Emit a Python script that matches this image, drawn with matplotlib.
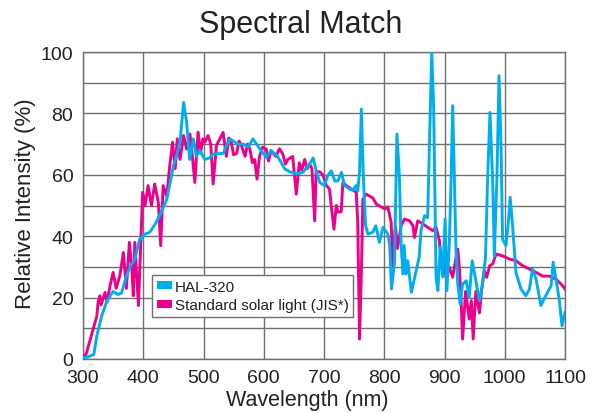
import matplotlib
matplotlib.use("Agg")
import matplotlib.pyplot as plt
from matplotlib.patches import Patch
from matplotlib.ticker import MultipleLocator

plt.rcParams['font.family'] = ['Liberation Sans', 'DejaVu Sans']

# HAL-320 spectrum
hal_wl = [300, 305, 312, 318, 323, 331, 339, 345, 350, 358, 364, 372, 378, 386, 394,
          403, 411, 420, 428, 439, 447, 450, 455, 461, 467, 472, 477, 483, 488, 494,
          502, 510, 516, 521, 533, 538, 544, 557, 566, 574, 582, 593, 604, 612, 623,
          635, 643, 654, 665, 676, 682, 687, 693, 701, 706, 712, 718, 723, 729, 734,
          742, 748, 753, 756, 759, 762, 765, 769, 773, 781, 786, 792, 798, 806, 809,
          812, 817, 821, 825, 828, 831, 833, 836, 839, 845, 853, 858, 861, 867, 872,
          875, 878.8, 882, 886, 889, 893, 897, 901, 904, 908, 911, 913.6, 916.4, 919, 922,
          926, 930, 936, 941, 946, 953, 958, 963, 968, 971.6, 975.5, 980, 982.7, 987, 990.5,
          993.8, 996.4, 1002, 1006, 1009, 1013, 1018.6, 1027, 1035, 1041, 1046, 1052, 1060, 1068, 1077,
          1080.4, 1085, 1090.4, 1095, 1100]
hal_val = [0.5, 0.5, 1, 1.5, 7.6, 14, 18.5, 20.5, 22, 21, 21.5, 27, 30, 32.5, 39,
           40.7, 41.3, 44, 47, 52, 59.7, 63, 66, 70.6, 83.6, 77, 65, 71.7, 66, 68,
           65, 65.5, 66.8, 66.8, 67, 69.5, 71.7, 70, 70, 69, 71.7, 68.6, 65.7, 67.9, 66,
           61.9, 61, 60.3, 60.8, 63.5, 65.5, 61.3, 57.5, 56.5, 59.7, 61.3, 58, 58, 60.8, 56.5,
           55.4, 55, 56.5, 54.7, 61, 81.4, 61, 43.4, 40.7, 41.3, 43.4, 38, 42.9, 40.7, 37,
           22.8, 31.5, 73.3, 60, 37.5, 27.7, 37, 27.7, 32, 21.7, 28.8, 33.2, 41.8, 46.7, 46,
           70, 100, 82, 26.7, 22.3, 36.4, 26.7, 45.6, 22.3, 37.5, 59, 82.5, 59, 35.3, 24.4,
           17.9, 24.4, 25.5, 20, 32, 24.4, 19, 24.4, 33, 59, 80.3, 57.7, 33.6, 59, 92.3,
           69.6, 39, 37, 44.5, 52.7, 43.4, 28.2, 22.8, 20.6, 22.8, 29.3, 26, 17.4, 20.6, 23.9,
           31.5, 26, 19.5, 10.8, 15.2]

# Standard solar light (JIS*) spectrum
jis_wl = [300, 305, 309, 317, 323, 325, 328, 330, 336.5, 340, 345, 350, 355, 361, 367,
          372, 377, 381, 383.5, 386, 392, 396, 399, 403, 408, 413.6, 419, 425, 429, 433,
          439, 444, 448.6, 453, 456.5, 461, 467, 472, 477.5, 482, 485.6, 491, 495, 499, 502,
          507.5, 512, 516, 521.5, 527, 532.5, 538, 542, 546, 550, 555, 559, 563, 569, 573,
          577, 581, 585, 588.8, 593, 598, 604, 608, 612, 620, 626, 631.5, 636, 640, 648,
          654, 659, 663, 668, 672, 676, 680, 684.5, 687, 692.7, 698, 704, 709, 716.5, 720.5,
          723, 728.6, 731.3, 737, 745, 753.5, 756, 759, 762, 764.5, 770, 776, 781, 786.6, 795,
          801, 806, 811.5, 814, 818.5, 822, 828, 833.6, 842, 847.6, 850, 855.6, 864, 872, 880.5,
          886, 891.6, 894, 897, 902.7, 908, 913.6, 919, 922, 925, 927.5, 930, 935, 941, 944.5,
          947.6, 952, 958, 961.5, 966, 970, 975, 980, 985.6, 996.4, 1007.5, 1018.6, 1029.6, 1040.7, 1051.8,
          1063, 1074, 1085, 1096, 1100]
jis_val = [1, 1.5, 4.3, 9.8, 14, 18.5, 20.6, 17.6, 21.7, 18.5, 24, 28.2, 23, 27, 34.7,
           23, 38, 29.6, 20.6, 38, 17.4, 39, 54.3, 50, 56.5, 50, 57, 51, 36.9, 56.5,
           53, 63, 70.6, 62, 71.7, 65, 72.8, 68.4, 73.3, 65, 57.5, 73.9, 67, 71.7, 70.6,
           72.8, 70, 57, 69.5, 71.7, 73.8, 66, 72, 70.6, 66.5, 67, 71, 69.5, 66, 70,
           68.4, 64, 65, 58.6, 66, 69, 68.4, 64.5, 67.9, 66, 68.5, 66.8, 63.5, 65, 66,
           53.7, 63.9, 61.5, 65, 62, 63.5, 62, 45, 61, 61, 60, 56.5, 55.4, 42.3, 50,
           47.8, 48, 57.5, 56.5, 55.4, 54.3, 44.5, 6.5, 28, 52, 53.7, 53, 52.5, 50.5, 49.5,
           48.9, 49.5, 44.5, 30.4, 43.4, 36, 43.4, 45.6, 45, 43.4, 39.6, 45, 44, 42.9, 41.8,
           42.9, 38.5, 32, 33, 26.6, 29.9, 26.6, 33, 35.8, 28.8, 19.5, 6.5, 22, 13, 19,
           6.5, 22, 15, 22.3, 28.8, 26.6, 30.4, 31, 34.2, 33.6, 32.6, 32, 30.4, 29.3, 28.2,
           27, 27, 26, 23.9, 22.8]

labels = ["HAL-320", "Standard solar light (JIS*)"]
colors = ["#00AEEF", "#EC008C"]
x_ticks = [300, 400, 500, 600, 700, 800, 900, 1000, 1100]
y_ticks = [0, 20, 40, 60, 80, 100]

fig = plt.figure(figsize=(6.01, 4.14), dpi=100)
ax = fig.add_axes([83/601, 1-360/414, (565-83)/601, (360-53)/414])

ax.plot(jis_wl, jis_val, color=colors[1], lw=2.1, solid_joinstyle='round', zorder=3)
ax.plot(hal_wl, hal_val, color=colors[0], lw=2.1, solid_joinstyle='round', zorder=4)

ax.set_xlim(300, 1100)
ax.set_ylim(0, 100)
ax.set_xticks(x_ticks)
ax.set_yticks(y_ticks)
ax.yaxis.set_minor_locator(MultipleLocator(10))
gridc = "#707070"
ax.grid(True, which='both', color=gridc, lw=1.0, zorder=1)
for s in ax.spines.values():
    s.set_color(gridc)
    s.set_linewidth(1.0)
ax.tick_params(axis='both', which='both', length=0, labelsize=14, colors='#222222')
ax.tick_params(axis='x', pad=7)
ax.tick_params(axis='y', pad=7)
ax.set_axisbelow(True)

fig.text(0.5, 1-33/414, "Spectral Match", ha='center', va='baseline', fontsize=22, color='#222222')
fig.text(307/601, 1-406.5/414, "Wavelength (nm)", ha='center', va='baseline', fontsize=15.5, color='#222222')
fig.text(26/601, 1-204/414, "Relative Intensity (%)", ha='center', va='center', rotation=90,
         fontsize=16, color='#222222')

handles = [Patch(facecolor=colors[0], edgecolor='none'), Patch(facecolor=colors[1], edgecolor='none')]
leg = fig.legend(handles, labels, loc='upper left', bbox_to_anchor=(152/601, 1-276/414),
                 fontsize=11, frameon=True, fancybox=False, framealpha=1, edgecolor=gridc,
                 handlelength=1.0, handleheight=0.45, handletextpad=0.2, borderpad=0.3,
                 labelspacing=0.3, borderaxespad=0)
leg.get_frame().set_linewidth(1.0)
for t in leg.get_texts():
    t.set_color('#222222')

fig.savefig("out.png", dpi=100)
